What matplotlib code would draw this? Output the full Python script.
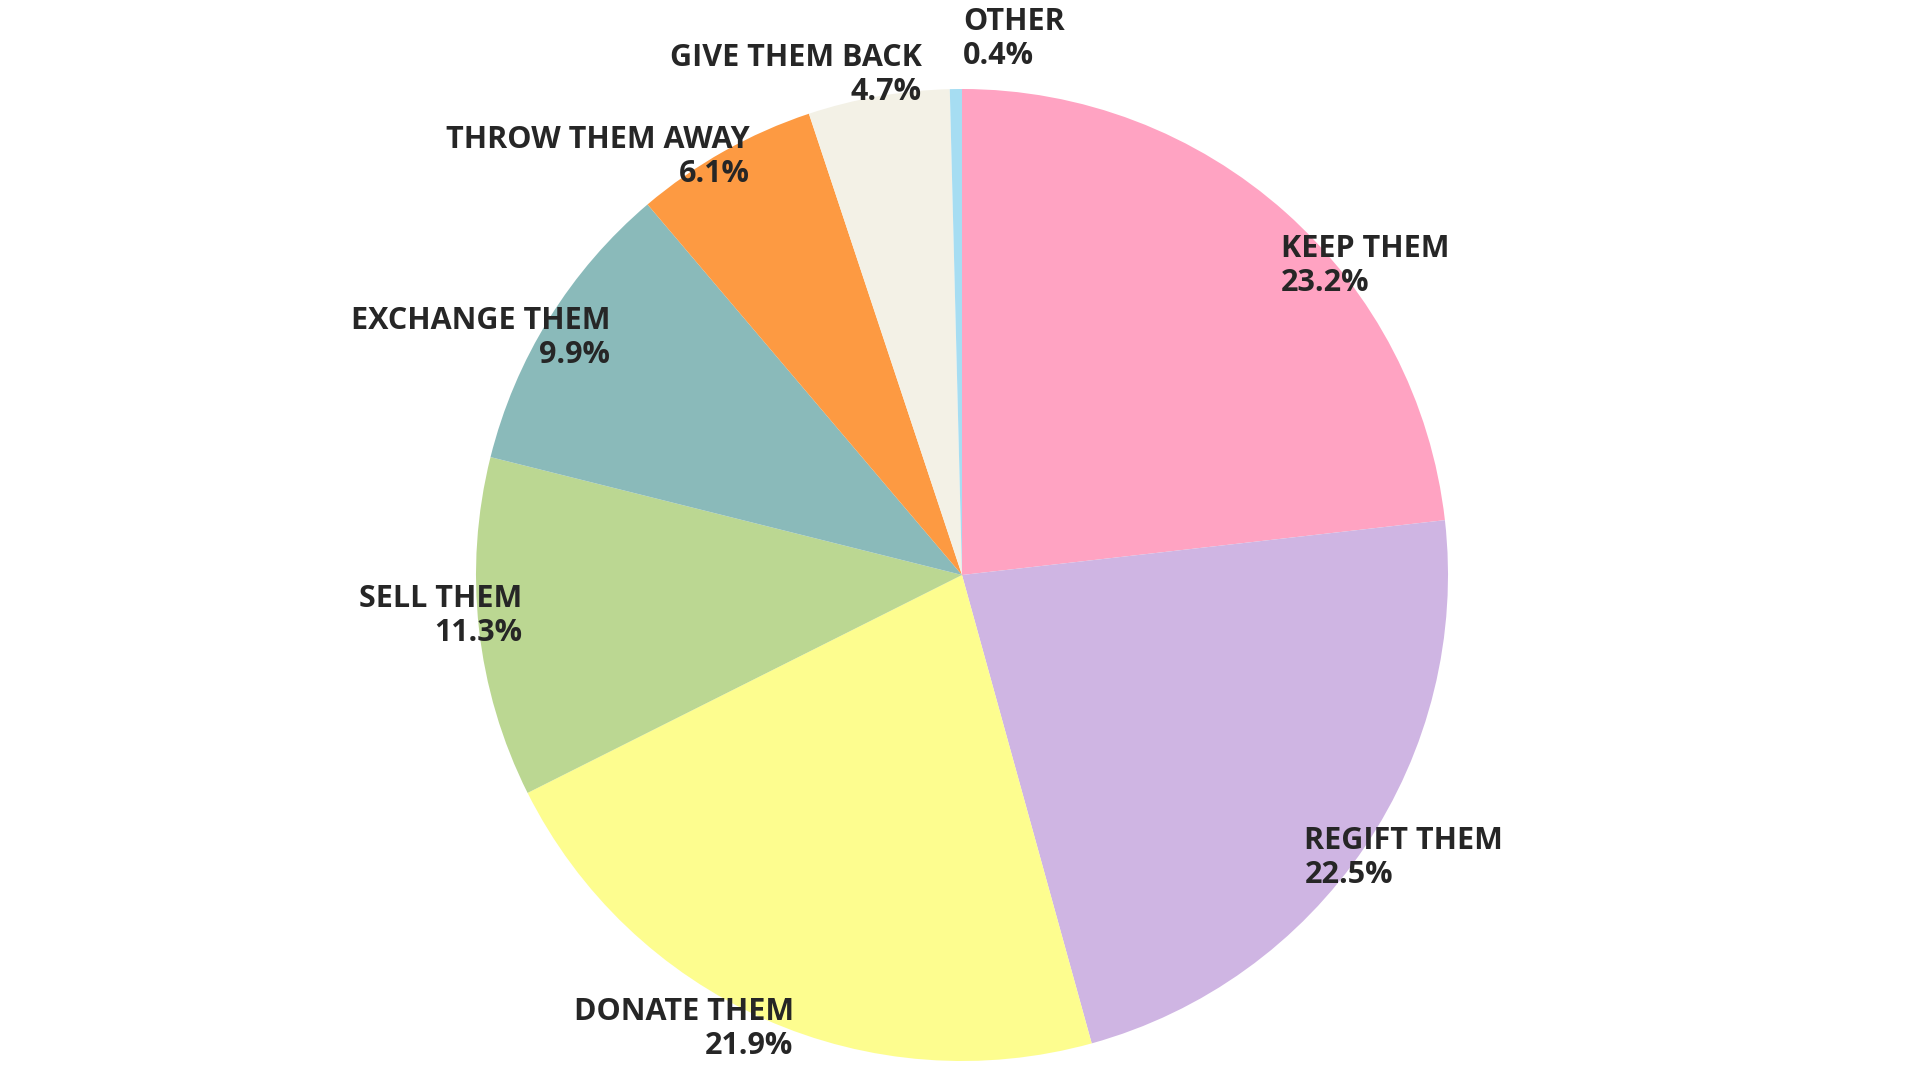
import numpy as np
import matplotlib
matplotlib.use("Agg")
import matplotlib.pyplot as plt

plt.rcParams['font.family'] = ['Open Sans', 'DejaVu Sans']

# data
categories = ["KEEP THEM", "REGIFT THEM", "DONATE THEM", "SELL THEM",
              "EXCHANGE THEM", "THROW THEM AWAY", "GIVE THEM BACK", "OTHER"]
shares = [23.2, 22.5, 21.9, 11.3, 9.9, 6.1, 4.7, 0.4]

colors = ["#FFA3C2", "#CFB5E3", "#FDFD8F", "#BBD792",
          "#8ABABA", "#FD9A42", "#F3F1E6", "#A6DDF2"]

# label placement (radius factor, angle nudge in degrees)
label_dist = [0.917, 0.912, 0.992, 0.909, 0.875, 0.968, 1.036, 1.107]
label_nudge = [-4.0, -5.4, 3.5, -1.2, -2.3, -2.5, -5.3, -0.8]

fig = plt.figure(figsize=(19.2, 10.8), dpi=100)
ax = fig.add_axes([0, 0, 1, 1])

wedges, _ = ax.pie(shares, colors=colors, startangle=90, counterclock=False,
                   radius=1.0, wedgeprops=dict(linewidth=0))

for w, cat, val, d, nudge in zip(wedges, categories, shares, label_dist, label_nudge):
    mid = np.deg2rad((w.theta1 + w.theta2) / 2 + nudge)
    x, y = d * np.cos(mid), d * np.sin(mid) - 0.004
    ha = "left" if x >= 0 else "right"
    ax.text(x, y, f"{cat}\n{val}%", ha=ha, va="center", multialignment=ha,
            fontsize=22, fontweight="bold", color="#262626", linespacing=1.17)

# center at (962, 575) px, radius 486 px
px = 486.0
cx, cy = 962, 575
ax.set_xlim(-cx / px, (1920 - cx) / px)
ax.set_ylim(-(1080 - cy) / px, cy / px)
ax.set_aspect("auto")
ax.axis("off")

fig.savefig("out.png", dpi=100, facecolor="white")
